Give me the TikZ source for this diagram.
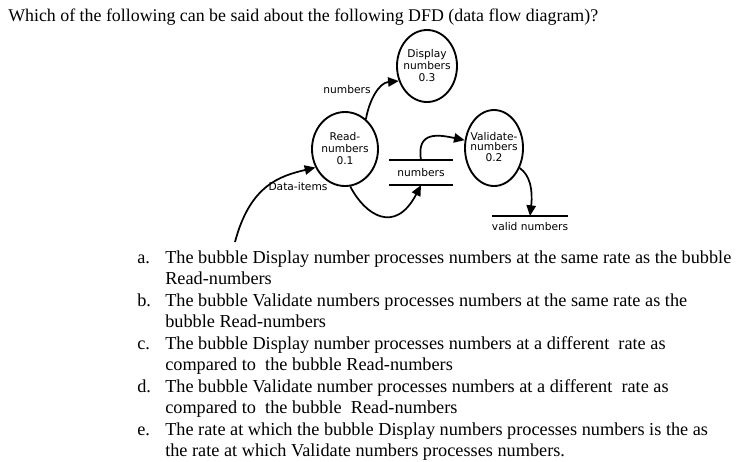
\documentclass[tikz,border=0pt]{standalone}
\usepackage{fontspec}
\setmainfont{Liberation Serif}
\newfontfamily\dfdfont{DejaVu Sans}
\usetikzlibrary{positioning,arrows.meta,shapes.geometric}

\begin{document}
\begin{tikzpicture}[
  x=0.75pt, y=-0.75pt,
  bubble/.style={draw, ellipse, line width=1.4pt, inner sep=0pt},
  dfdtxt/.style={font=\dfdfont\fontsize{8}{9}\selectfont, inner sep=0pt, align=center},
  flow/.style={-{Triangle[length=8pt,width=7pt]}, line width=1.3pt},
  storeline/.style={line width=1.1pt},
  qtxt/.style={anchor=base west, inner sep=0pt, font=\fontsize{13.7}{15}\selectfont}
]
\useasboundingbox (0,0) rectangle (737,461);

% Question
\node[qtxt, font=\fontsize{13.4}{15}\selectfont] (title) at (8,21) {Which of the following can be said about the following DFD (data flow diagram)?};

% Bubbles
\node[bubble, minimum width=45pt, minimum height=54pt] (disp) at (427,66) {};
\node[dfdtxt] (disptxt) at (disp) {Display\\numbers\\0.3};
\node[bubble, minimum width=49.5pt, minimum height=55.5pt] (read) at (345,149) {};
\node[dfdtxt] (readtxt) at (read) {Read-\\numbers\\0.1};
\node[bubble, minimum width=43.5pt, minimum height=57pt] (val) at (494,148) {};
\node[dfdtxt, font=\dfdfont\fontsize{8}{7.8}\selectfont] (valtxt) at ([yshift=1pt]val) {Validate-\\numbers\\0.2};

% Data stores
\node[dfdtxt, minimum width=47pt, minimum height=18.5pt] (store) at (421,172.5) {numbers};
\draw[storeline] (store.north west) -- (store.north east);
\draw[storeline] (store.south west) -- (store.south east);
\node[dfdtxt, minimum width=48pt, minimum height=15pt, anchor=north] (vstore) at (530,216) {valid numbers};
\draw[storeline] (vstore.north west) -- (vstore.north east);

% Flow labels
\node[dfdtxt] (numlbl) at (347,90) {numbers};
\node[dfdtxt] (itemlbl) at (298,187) {Data-items};
\coordinate (src) at (235,242);

% Flows
\draw[flow] (src) .. controls (250,185) and (280,176) .. (read.212);
\draw[flow] (read.55) to[out=80, in=185] (disp.208);
\draw[flow] (read.-82) .. controls (365,215) and (395,235) .. (store.south);
\draw[flow] (store.north) .. controls (416,130) and (440,135) .. (val.165);
\draw[flow] (val.-38) .. controls (530,175) and (533,190) .. (vstore.north);

% Answers
\node[qtxt] (la) at (137,263) {a.};
\node[qtxt] (a1) at (165,263) {The bubble Display number processes numbers at the same rate as the bubble};
\node[qtxt] (a2) at (165,284.5) {Read-numbers};
\node[qtxt] (lb) at (137,306) {b.};
\node[qtxt] (b1) at (165,306) {The bubble Validate numbers processes numbers at the same rate as the};
\node[qtxt] (b2) at (165,327.5) {bubble Read-numbers};
\node[qtxt] (lc) at (137,349) {c.};
\node[qtxt] (c1) at (165,349) {The bubble Display number processes numbers at a different\ \ rate as};
\node[qtxt] (c2) at (165,370.5) {compared to\ \ the bubble Read-numbers};
\node[qtxt] (ld) at (137,392) {d.};
\node[qtxt] (d1) at (165,392) {The bubble Validate number processes numbers at a different\ \ rate as};
\node[qtxt] (d2) at (165,413.5) {compared to\ \ the bubble\ \ Read-numbers};
\node[qtxt] (le) at (137,435) {e.};
\node[qtxt] (e1) at (165,435) {The rate at which the bubble Display numbers processes numbers is the as};
\node[qtxt] (e2) at (165,456.5) {the rate at which Validate numbers processes numbers.};

\end{tikzpicture}
\end{document}
